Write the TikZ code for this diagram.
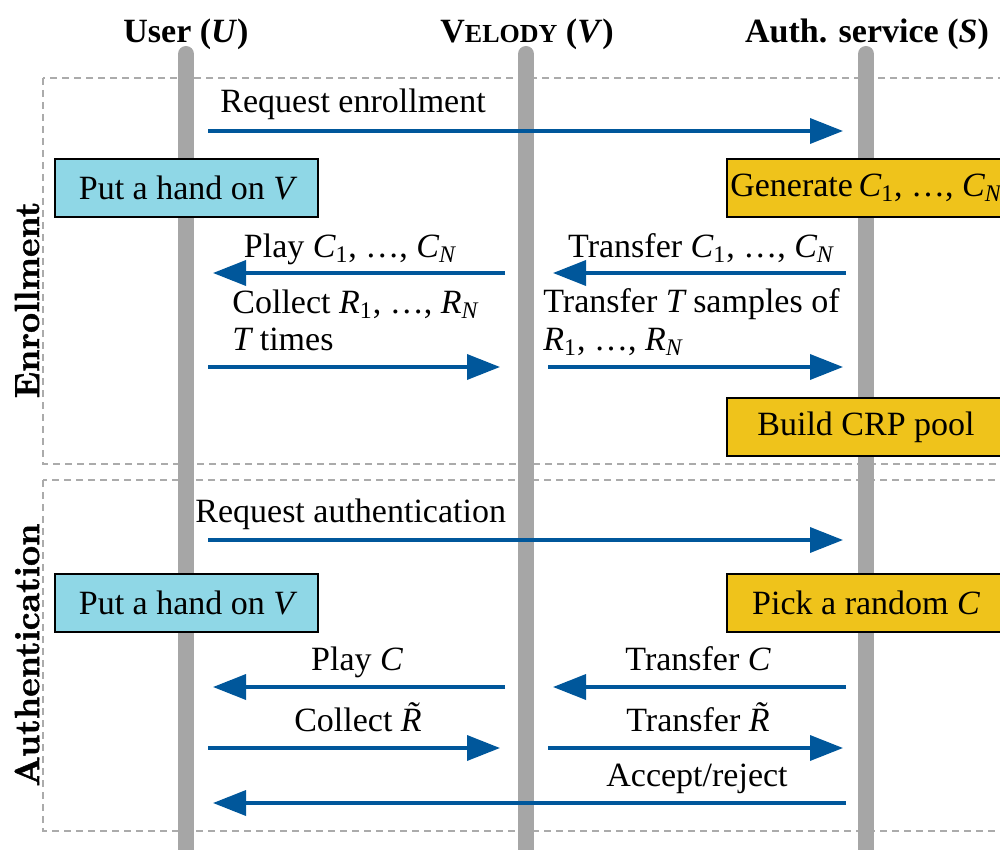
\documentclass[tikz,border=0pt]{standalone}
\usepackage{fontspec}
\setmainfont{Liberation Serif}
\newfontfamily\lmbold{lmroman10-bold.otf}[FakeBold=1.3]
\usetikzlibrary{arrows.meta}
\definecolor{lifegray}{HTML}{A6A6A6}
\definecolor{msgblue}{HTML}{00579B}
\definecolor{userblue}{HTML}{8FD7E6}
\definecolor{servyellow}{HTML}{EFC31B}
\definecolor{dashgray}{HTML}{ABABAB}
\newcommand\vi[1]{{\itshape #1}}
\newcommand\vsub[2]{{\itshape #1}\textsubscript{#2}}
\newcommand\vlist[1]{\vsub{#1}{1}, …, \vsub{#1}{\itshape N}}
\begin{document}
\begin{tikzpicture}[x=0.5pt,y=-0.5pt,
  font=\fontsize{17}{20}\selectfont,
  lifeline/.style={draw=lifegray,line width=8pt,line cap=round},
  phase/.style={draw=dashgray,line width=0.75pt,dash pattern=on 3.5pt off 2.5pt},
  msg/.style={draw=msgblue,line width=1.8pt,-{Triangle[length=16.5pt,width=12.5pt]}},
  ubox/.style={draw=black,line width=0.7pt,fill=userblue,minimum width=131.5pt,minimum height=29pt,inner sep=0pt},
  sbox/.style={draw=black,line width=0.7pt,fill=servyellow,minimum width=139pt,minimum height=29pt,inner sep=0pt},
  lbl/.style={anchor=base,inner sep=0pt},
  lblw/.style={anchor=base west,inner sep=0pt},
  hdr/.style={anchor=base,inner sep=0pt,font=\fontsize{17}{20}\selectfont\bfseries},
  side/.style={rotate=90,inner sep=0pt,font=\lmbold\fontsize{17.5}{20}\selectfont}]
\useasboundingbox (0,0) rectangle (1000,850);
\clip (0,0) rectangle (1000,850);

% phases
\draw[phase] (43,78) rectangle (1020,464);
\draw[phase] (43,480) rectangle (1020,831);
\node[side] (enr) at (27,300) {Enrollment};
\node[side] (auth) at (27,655) {Authentication};

% headers
\node[hdr] (hU) at (186,43) {User (\textit{U})};
\node[hdr] (hV) at (527,43) {V{\fontsize{13}{16}\selectfont ELODY} (\textit{V})};
\node[hdr] (hS) at (867,43) {Auth. service (\textit{S})};

% lifelines
\coordinate (lU) at (186,54);
\coordinate (lV) at (526,54);
\coordinate (lS) at (866,54);
\draw[lifeline] (lU) -- (186,880);
\draw[lifeline] (lV) -- (526,880);
\draw[lifeline] (lS) -- (866,880);

% boxes
\node[ubox] (put1) at (186.5,188) {Put a hand on \vi{V}};
\node[sbox] (gen) at (866,188) {Generate\,\vlist{C}};
\node[sbox] (crp) at (866,427) {Build CRP pool};
\node[ubox] (put2) at (186.5,603) {Put a hand on \vi{V}};
\node[sbox] (pick) at (866,603) {Pick a random \vi{C}};

% coordinates for message ends
\coordinate (u1) at (208,131);   \coordinate (s1) at (843,131);
\coordinate (v2) at (505,273);   \coordinate (u2) at (213,273);
\coordinate (s3) at (846,273);   \coordinate (v3) at (553,273);
\coordinate (u4) at (208,367);   \coordinate (v4) at (500,367);
\coordinate (v5) at (548,367);   \coordinate (s5) at (843,367);
\coordinate (u6) at (208,540);   \coordinate (s6) at (843,540);
\coordinate (v7) at (505,687);   \coordinate (u7) at (213,687);
\coordinate (s8) at (846,687);   \coordinate (v8) at (553,687);
\coordinate (u9) at (208,748);   \coordinate (v9) at (500,748);
\coordinate (v10) at (548,748);  \coordinate (s10) at (843,748);
\coordinate (s11) at (846,803);  \coordinate (u11) at (213,803);

% messages
\draw[msg] (u1) -- (s1);
\draw[msg] (v2) -- (u2);
\draw[msg] (s3) -- (v3);
\draw[msg] (u4) -- (v4);
\draw[msg] (v5) -- (s5);
\draw[msg] (u6) -- (s6);
\draw[msg] (v7) -- (u7);
\draw[msg] (s8) -- (v8);
\draw[msg] (u9) -- (v9);
\draw[msg] (v10) -- (s10);
\draw[msg] (s11) -- (u11);

% labels
\node[lblw] (t1) at (220,113) {Request enrollment};
\node[lbl] (t2) at (350,257) {Play \vlist{C}};
\node[lbl] (t3) at (701,257) {Transfer \vlist{C}};
\node[lblw] (t4a) at (232,313) {Collect \vlist{R}};
\node[lblw] (t4b) at (232,350) {\vi{T} times};
\node[lblw] (t5a) at (543,312) {Transfer \vi{T} samples of};
\node[lblw] (t5b) at (543,350) {\vlist{R}};
\node[lblw] (t6) at (195,522) {Request authentication};
\node[lbl] (t7) at (357,670) {Play \vi{C}};
\node[lbl] (t8) at (698,670) {Transfer \vi{C}};
\node[lbl] (t9) at (358,731) {Collect \vi{\~R}};
\node[lbl] (t10) at (698,731) {Transfer~\vi{\~R}};
\node[lbl] (t11) at (697,786) {Accept/reject};
\end{tikzpicture}
\end{document}
